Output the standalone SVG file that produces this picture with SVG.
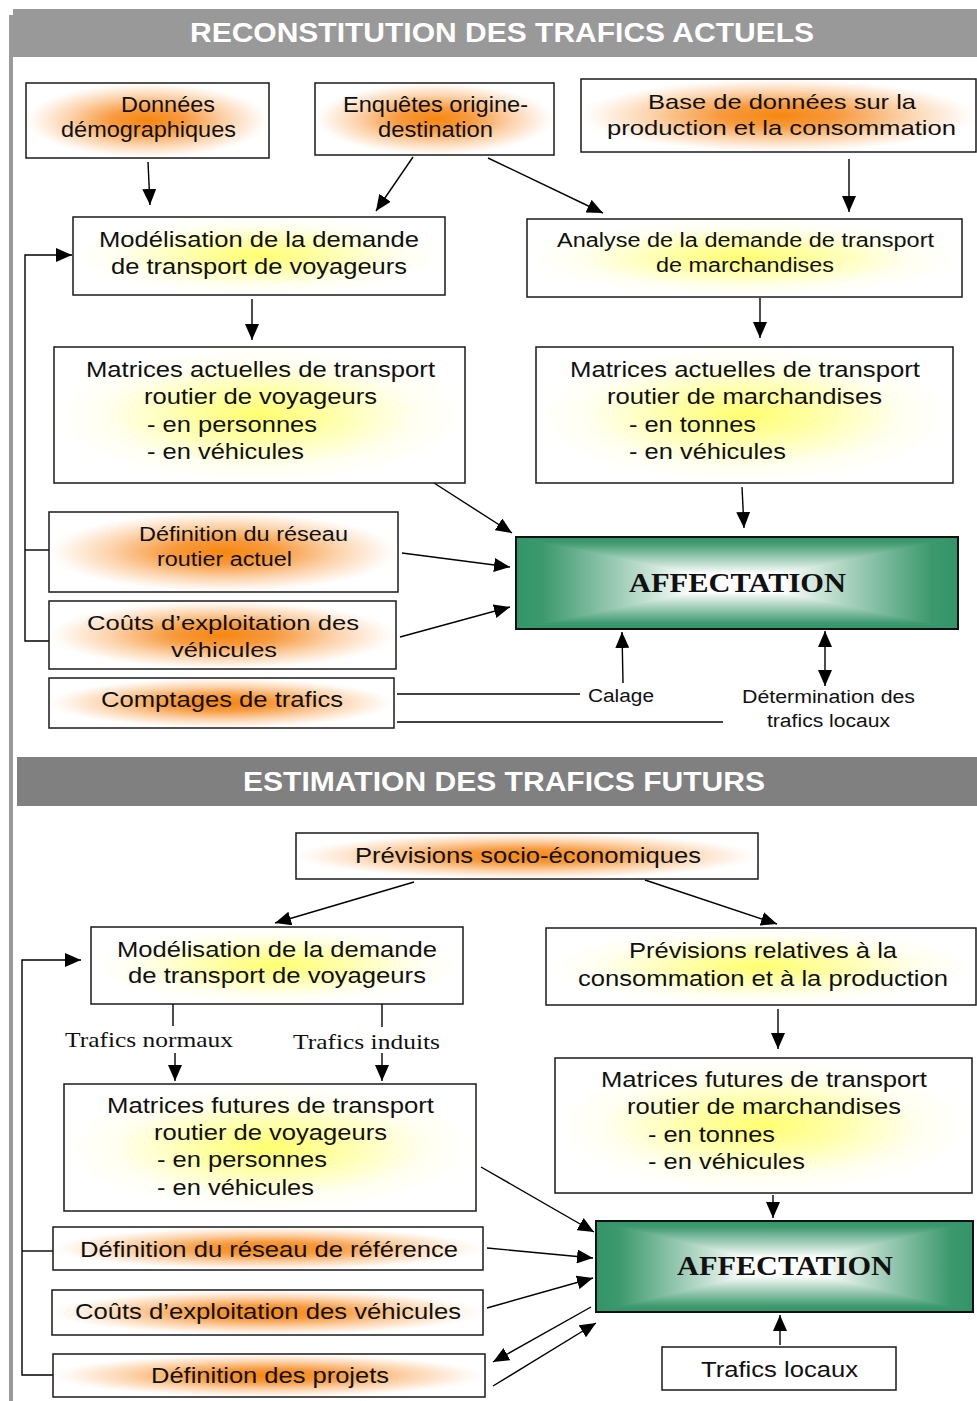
<svg xmlns="http://www.w3.org/2000/svg" width="977" height="1401" viewBox="0 0 977 1401">
<defs>
<style>
.bx{stroke:#1a1a1a;stroke-width:1.5}
.or{fill:url(#gOr)}
.ye{fill:url(#gYe)}
.t{font-family:"Liberation Sans",Arial,sans-serif;fill:#111}
.s22{font-size:22px}
.s21{font-size:21px}
.s20{font-size:20px}
.s18{font-size:18px}
.hd{font-family:"Liberation Sans",Arial,sans-serif;font-weight:bold;font-size:27px;fill:#fff}
.af{font-family:"Liberation Serif","Times New Roman",serif;font-weight:bold;font-size:27px;fill:#111}
.tm{font-family:"Liberation Serif","Times New Roman",serif;font-size:21px;fill:#111}
.ln{stroke:#000;stroke-width:1.4;fill:none}
.ar{stroke:#000;stroke-width:1.4;fill:none;marker-end:url(#ah)}
.ab{stroke:#000;stroke-width:1.4;fill:none;marker-end:url(#ah);marker-start:url(#ah)}
.afo{fill:none;stroke:#111;stroke-width:2}
.tri{shape-rendering:crispEdges}
</style>
<radialGradient id="gOr" cx="0.5" cy="0.5" r="0.5">
<stop offset="0" stop-color="#f6870f"/>
<stop offset="0.3" stop-color="#f89a3e"/>
<stop offset="0.65" stop-color="#fcd3ac"/>
<stop offset="0.92" stop-color="#fff7f0"/>
<stop offset="1" stop-color="#ffffff"/>
</radialGradient>
<radialGradient id="gYe" cx="0.5" cy="0.5" r="0.5">
<stop offset="0" stop-color="#ffff70"/>
<stop offset="0.35" stop-color="#ffffa8"/>
<stop offset="0.75" stop-color="#fffff0"/>
<stop offset="1" stop-color="#ffffff"/>
</radialGradient>
<linearGradient id="gT" x1="0" y1="0" x2="0" y2="1">
<stop offset="0" stop-color="#33946a"/>
<stop offset="0.12" stop-color="#3c996d"/>
<stop offset="0.8" stop-color="#ffffff"/>
</linearGradient>
<linearGradient id="gB" x1="0" y1="1" x2="0" y2="0">
<stop offset="0" stop-color="#33946a"/>
<stop offset="0.12" stop-color="#3c996d"/>
<stop offset="0.8" stop-color="#ffffff"/>
</linearGradient>
<linearGradient id="gL" x1="0" y1="0" x2="1" y2="0">
<stop offset="0" stop-color="#33946a"/>
<stop offset="0.12" stop-color="#3c996d"/>
<stop offset="0.8" stop-color="#ffffff"/>
</linearGradient>
<linearGradient id="gR" x1="1" y1="0" x2="0" y2="0">
<stop offset="0" stop-color="#33946a"/>
<stop offset="0.12" stop-color="#3c996d"/>
<stop offset="0.8" stop-color="#ffffff"/>
</linearGradient>
<marker id="ah" viewBox="0 0 16 14" refX="16" refY="7" markerWidth="16" markerHeight="14" markerUnits="userSpaceOnUse" orient="auto-start-reverse">
<path d="M0,0 L16,7 L0,14 z" fill="#000"/>
</marker>
</defs>

<rect x="0" y="0" width="977" height="1401" fill="#ffffff"/>

<!-- frame and headers -->
<g id="frame">
<rect x="9" y="15" width="4" height="1386" fill="#9a9a9a"/>
<rect x="13" y="9" width="964" height="48" fill="#999999"/>
<text class="hd" x="190" y="42" textLength="624" lengthAdjust="spacingAndGlyphs">RECONSTITUTION DES TRAFICS ACTUELS</text>
<rect x="17" y="757" width="960" height="49" fill="#808080"/>
<text class="hd" x="243" y="791" textLength="522" lengthAdjust="spacingAndGlyphs">ESTIMATION DES TRAFICS FUTURS</text>
</g>

<!-- connectors -->
<g id="connectors">
<line class="ar" x1="148" y1="162" x2="150" y2="205"/>
<line class="ar" x1="413" y1="157" x2="376" y2="211"/>
<line class="ar" x1="488" y1="158" x2="603" y2="213"/>
<line class="ar" x1="849" y1="159" x2="849" y2="212"/>
<line class="ar" x1="252" y1="299" x2="252" y2="340"/>
<line class="ar" x1="760" y1="298" x2="760" y2="338"/>
<line class="ar" x1="434" y1="483" x2="512" y2="533"/>
<line class="ar" x1="402" y1="553" x2="510" y2="567"/>
<line class="ar" x1="400" y1="637" x2="510" y2="607"/>
<line class="ar" x1="742" y1="487" x2="744" y2="528"/>
<line class="ar" x1="623" y1="683" x2="622" y2="632"/>
<line class="ab" x1="825" y1="686" x2="825" y2="631"/>
<polyline class="ar" points="49,641 25,641 25,255 72,255"/>
<line class="ln" x1="25" y1="550" x2="49" y2="550"/>
<line class="ln" x1="397" y1="694" x2="580" y2="694" stroke="#222"/>
<line class="ln" x1="397" y1="722" x2="723" y2="722" stroke="#222"/>

<line class="ar" x1="414" y1="882" x2="275" y2="923"/>
<line class="ar" x1="645" y1="880" x2="777" y2="924"/>
<line class="ln" x1="173" y1="1004" x2="173" y2="1026"/>
<line class="ar" x1="175" y1="1053" x2="175" y2="1081"/>
<line class="ln" x1="382" y1="1004" x2="382" y2="1027"/>
<line class="ar" x1="382" y1="1053" x2="382" y2="1081"/>
<line class="ar" x1="778" y1="1009" x2="778" y2="1049"/>
<polyline class="ar" points="53,1375 22,1375 22,960 81,960"/>
<line class="ln" x1="22" y1="1251" x2="53" y2="1251"/>
<line class="ar" x1="773" y1="1195" x2="773" y2="1218"/>
<line class="ar" x1="481" y1="1167" x2="594" y2="1232"/>
<line class="ar" x1="487" y1="1248" x2="593" y2="1258"/>
<line class="ar" x1="487" y1="1308" x2="593" y2="1278"/>
<line class="ar" x1="591" y1="1307" x2="493" y2="1362"/>
<line class="ar" x1="493" y1="1386" x2="596" y2="1323"/>
<line class="ar" x1="780" y1="1345" x2="780" y2="1315"/>
</g>

<!-- section 1 nodes -->
<g id="donnees">
<rect class="bx or" x="26" y="83" width="243" height="75"/>
<text class="t s22" x="121" y="112" textLength="94" lengthAdjust="spacingAndGlyphs">Données</text>
<text class="t s22" x="61" y="137" textLength="175" lengthAdjust="spacingAndGlyphs">démographiques</text>
</g>
<g id="enquetes">
<rect class="bx or" x="315" y="83" width="239" height="72"/>
<text class="t s22" x="343" y="112" textLength="185" lengthAdjust="spacingAndGlyphs">Enquêtes origine-</text>
<text class="t s22" x="378" y="137" textLength="115" lengthAdjust="spacingAndGlyphs">destination</text>
</g>
<g id="base">
<rect class="bx or" x="581" y="79" width="395" height="73"/>
<text class="t s21" x="648" y="109" textLength="268" lengthAdjust="spacingAndGlyphs">Base de données sur la</text>
<text class="t s21" x="607" y="135" textLength="349" lengthAdjust="spacingAndGlyphs">production et la consommation</text>
</g>
<g id="modelisation">
<rect class="bx ye" x="73" y="217" width="372" height="78"/>
<text class="t s22" x="99" y="247" textLength="320" lengthAdjust="spacingAndGlyphs">Modélisation de la demande</text>
<text class="t s22" x="111" y="274" textLength="296" lengthAdjust="spacingAndGlyphs">de transport de voyageurs</text>
</g>
<g id="analyse">
<rect class="bx ye" x="527" y="219" width="435" height="78"/>
<text class="t s20" x="557" y="247" textLength="377" lengthAdjust="spacingAndGlyphs">Analyse de la demande de transport</text>
<text class="t s20" x="656" y="272" textLength="178" lengthAdjust="spacingAndGlyphs">de marchandises</text>
</g>
<g id="matrices-voyageurs">
<rect class="bx ye" x="54" y="347" width="411" height="136"/>
<text class="t s22" x="86" y="377" textLength="349" lengthAdjust="spacingAndGlyphs">Matrices actuelles de transport</text>
<text class="t s22" x="144" y="404" textLength="233" lengthAdjust="spacingAndGlyphs">routier de voyageurs</text>
<text class="t s22" x="147" y="432" textLength="170" lengthAdjust="spacingAndGlyphs">- en personnes</text>
<text class="t s22" x="147" y="459" textLength="157" lengthAdjust="spacingAndGlyphs">- en véhicules</text>
</g>
<g id="matrices-marchandises">
<rect class="bx ye" x="536" y="347" width="417" height="136"/>
<text class="t s22" x="570" y="377" textLength="350" lengthAdjust="spacingAndGlyphs">Matrices actuelles de transport</text>
<text class="t s22" x="607" y="404" textLength="275" lengthAdjust="spacingAndGlyphs">routier de marchandises</text>
<text class="t s22" x="629" y="432" textLength="127" lengthAdjust="spacingAndGlyphs">- en tonnes</text>
<text class="t s22" x="629" y="459" textLength="157" lengthAdjust="spacingAndGlyphs">- en véhicules</text>
</g>
<g id="definition-reseau">
<rect class="bx or" x="49" y="512" width="349" height="80"/>
<text class="t s20" x="139" y="541" textLength="209" lengthAdjust="spacingAndGlyphs">Définition du réseau</text>
<text class="t s20" x="157" y="566" textLength="135" lengthAdjust="spacingAndGlyphs">routier actuel</text>
</g>
<g id="couts">
<rect class="bx or" x="49" y="601" width="347" height="68"/>
<text class="t s21" x="87" y="630" textLength="272" lengthAdjust="spacingAndGlyphs">Coûts d’exploitation des</text>
<text class="t s21" x="171" y="657" textLength="106" lengthAdjust="spacingAndGlyphs">véhicules</text>
</g>
<g id="comptages">
<rect class="bx or" x="49" y="678" width="345" height="50"/>
<text class="t s22" x="101" y="707" textLength="242" lengthAdjust="spacingAndGlyphs">Comptages de trafics</text>
</g>
<g id="affectation-1">
<polygon class="tri" points="516,537 958,537 737,583" fill="url(#gT)"/>
<polygon class="tri" points="516,629 958,629 737,583" fill="url(#gB)"/>
<polygon class="tri" points="516,537 516,629 737,583" fill="url(#gL)"/>
<polygon class="tri" points="958,537 958,629 737,583" fill="url(#gR)"/>
<rect class="afo" x="516" y="537" width="442" height="92"/>
<text class="af" x="629" y="592" textLength="217" lengthAdjust="spacingAndGlyphs">AFFECTATION</text>
</g>
<g id="calage">
<text class="t s18" x="588" y="702" textLength="66" lengthAdjust="spacingAndGlyphs">Calage</text>
</g>
<g id="determination">
<text class="t s18" x="742" y="703" textLength="173" lengthAdjust="spacingAndGlyphs">Détermination des</text>
<text class="t s18" x="767" y="727" textLength="123" lengthAdjust="spacingAndGlyphs">trafics locaux</text>
</g>

<!-- section 2 nodes -->
<g id="previsions-socio">
<rect class="bx or" x="296" y="833" width="462" height="46"/>
<text class="t s22" x="355" y="863" textLength="346" lengthAdjust="spacingAndGlyphs">Prévisions socio-économiques</text>
</g>
<g id="modelisation-2">
<rect class="bx ye" x="91" y="927" width="372" height="77"/>
<text class="t s22" x="117" y="957" textLength="320" lengthAdjust="spacingAndGlyphs">Modélisation de la demande</text>
<text class="t s22" x="128" y="983" textLength="298" lengthAdjust="spacingAndGlyphs">de transport de voyageurs</text>
</g>
<g id="previsions-relatives">
<rect class="bx ye" x="546" y="928" width="430" height="77"/>
<text class="t s22" x="629" y="958" textLength="268" lengthAdjust="spacingAndGlyphs">Prévisions relatives à la</text>
<text class="t s22" x="578" y="986" textLength="370" lengthAdjust="spacingAndGlyphs">consommation et à la production</text>
</g>
<g id="labels-trafics">
<text class="tm" x="65" y="1047" textLength="168" lengthAdjust="spacingAndGlyphs">Trafics normaux</text>
<text class="tm" x="293" y="1049" textLength="147" lengthAdjust="spacingAndGlyphs">Trafics induits</text>
</g>
<g id="matrices-futures-voyageurs">
<rect class="bx ye" x="64" y="1084" width="412" height="127"/>
<text class="t s22" x="107" y="1113" textLength="327" lengthAdjust="spacingAndGlyphs">Matrices futures de transport</text>
<text class="t s22" x="154" y="1140" textLength="233" lengthAdjust="spacingAndGlyphs">routier de voyageurs</text>
<text class="t s22" x="157" y="1167" textLength="170" lengthAdjust="spacingAndGlyphs">- en personnes</text>
<text class="t s22" x="157" y="1195" textLength="157" lengthAdjust="spacingAndGlyphs">- en véhicules</text>
</g>
<g id="matrices-futures-marchandises">
<rect class="bx ye" x="555" y="1058" width="417" height="135"/>
<text class="t s22" x="601" y="1087" textLength="326" lengthAdjust="spacingAndGlyphs">Matrices futures de transport</text>
<text class="t s22" x="627" y="1114" textLength="274" lengthAdjust="spacingAndGlyphs">routier de marchandises</text>
<text class="t s22" x="648" y="1142" textLength="127" lengthAdjust="spacingAndGlyphs">- en tonnes</text>
<text class="t s22" x="648" y="1169" textLength="157" lengthAdjust="spacingAndGlyphs">- en véhicules</text>
</g>
<g id="definition-reference">
<rect class="bx or" x="53" y="1227" width="430" height="43"/>
<text class="t s22" x="80" y="1257" textLength="378" lengthAdjust="spacingAndGlyphs">Définition du réseau de référence</text>
</g>
<g id="couts-2">
<rect class="bx or" x="52" y="1290" width="431" height="45"/>
<text class="t s22" x="75" y="1319" textLength="386" lengthAdjust="spacingAndGlyphs">Coûts d’exploitation des véhicules</text>
</g>
<g id="definition-projets">
<rect class="bx or" x="53" y="1354" width="432" height="43"/>
<text class="t s22" x="151" y="1383" textLength="238" lengthAdjust="spacingAndGlyphs">Définition des projets</text>
</g>
<g id="affectation-2">
<polygon class="tri" points="596,1221 973,1221 784.5,1266.5" fill="url(#gT)"/>
<polygon class="tri" points="596,1312 973,1312 784.5,1266.5" fill="url(#gB)"/>
<polygon class="tri" points="596,1221 596,1312 784.5,1266.5" fill="url(#gL)"/>
<polygon class="tri" points="973,1221 973,1312 784.5,1266.5" fill="url(#gR)"/>
<rect class="afo" x="596" y="1221" width="377" height="91"/>
<text class="af" x="677" y="1275" textLength="216" lengthAdjust="spacingAndGlyphs">AFFECTATION</text>
</g>
<g id="trafics-locaux">
<rect class="bx" x="662" y="1347" width="234" height="43" fill="#ffffff"/>
<text class="t s22" x="701" y="1377" textLength="157" lengthAdjust="spacingAndGlyphs">Trafics locaux</text>
</g>
</svg>
